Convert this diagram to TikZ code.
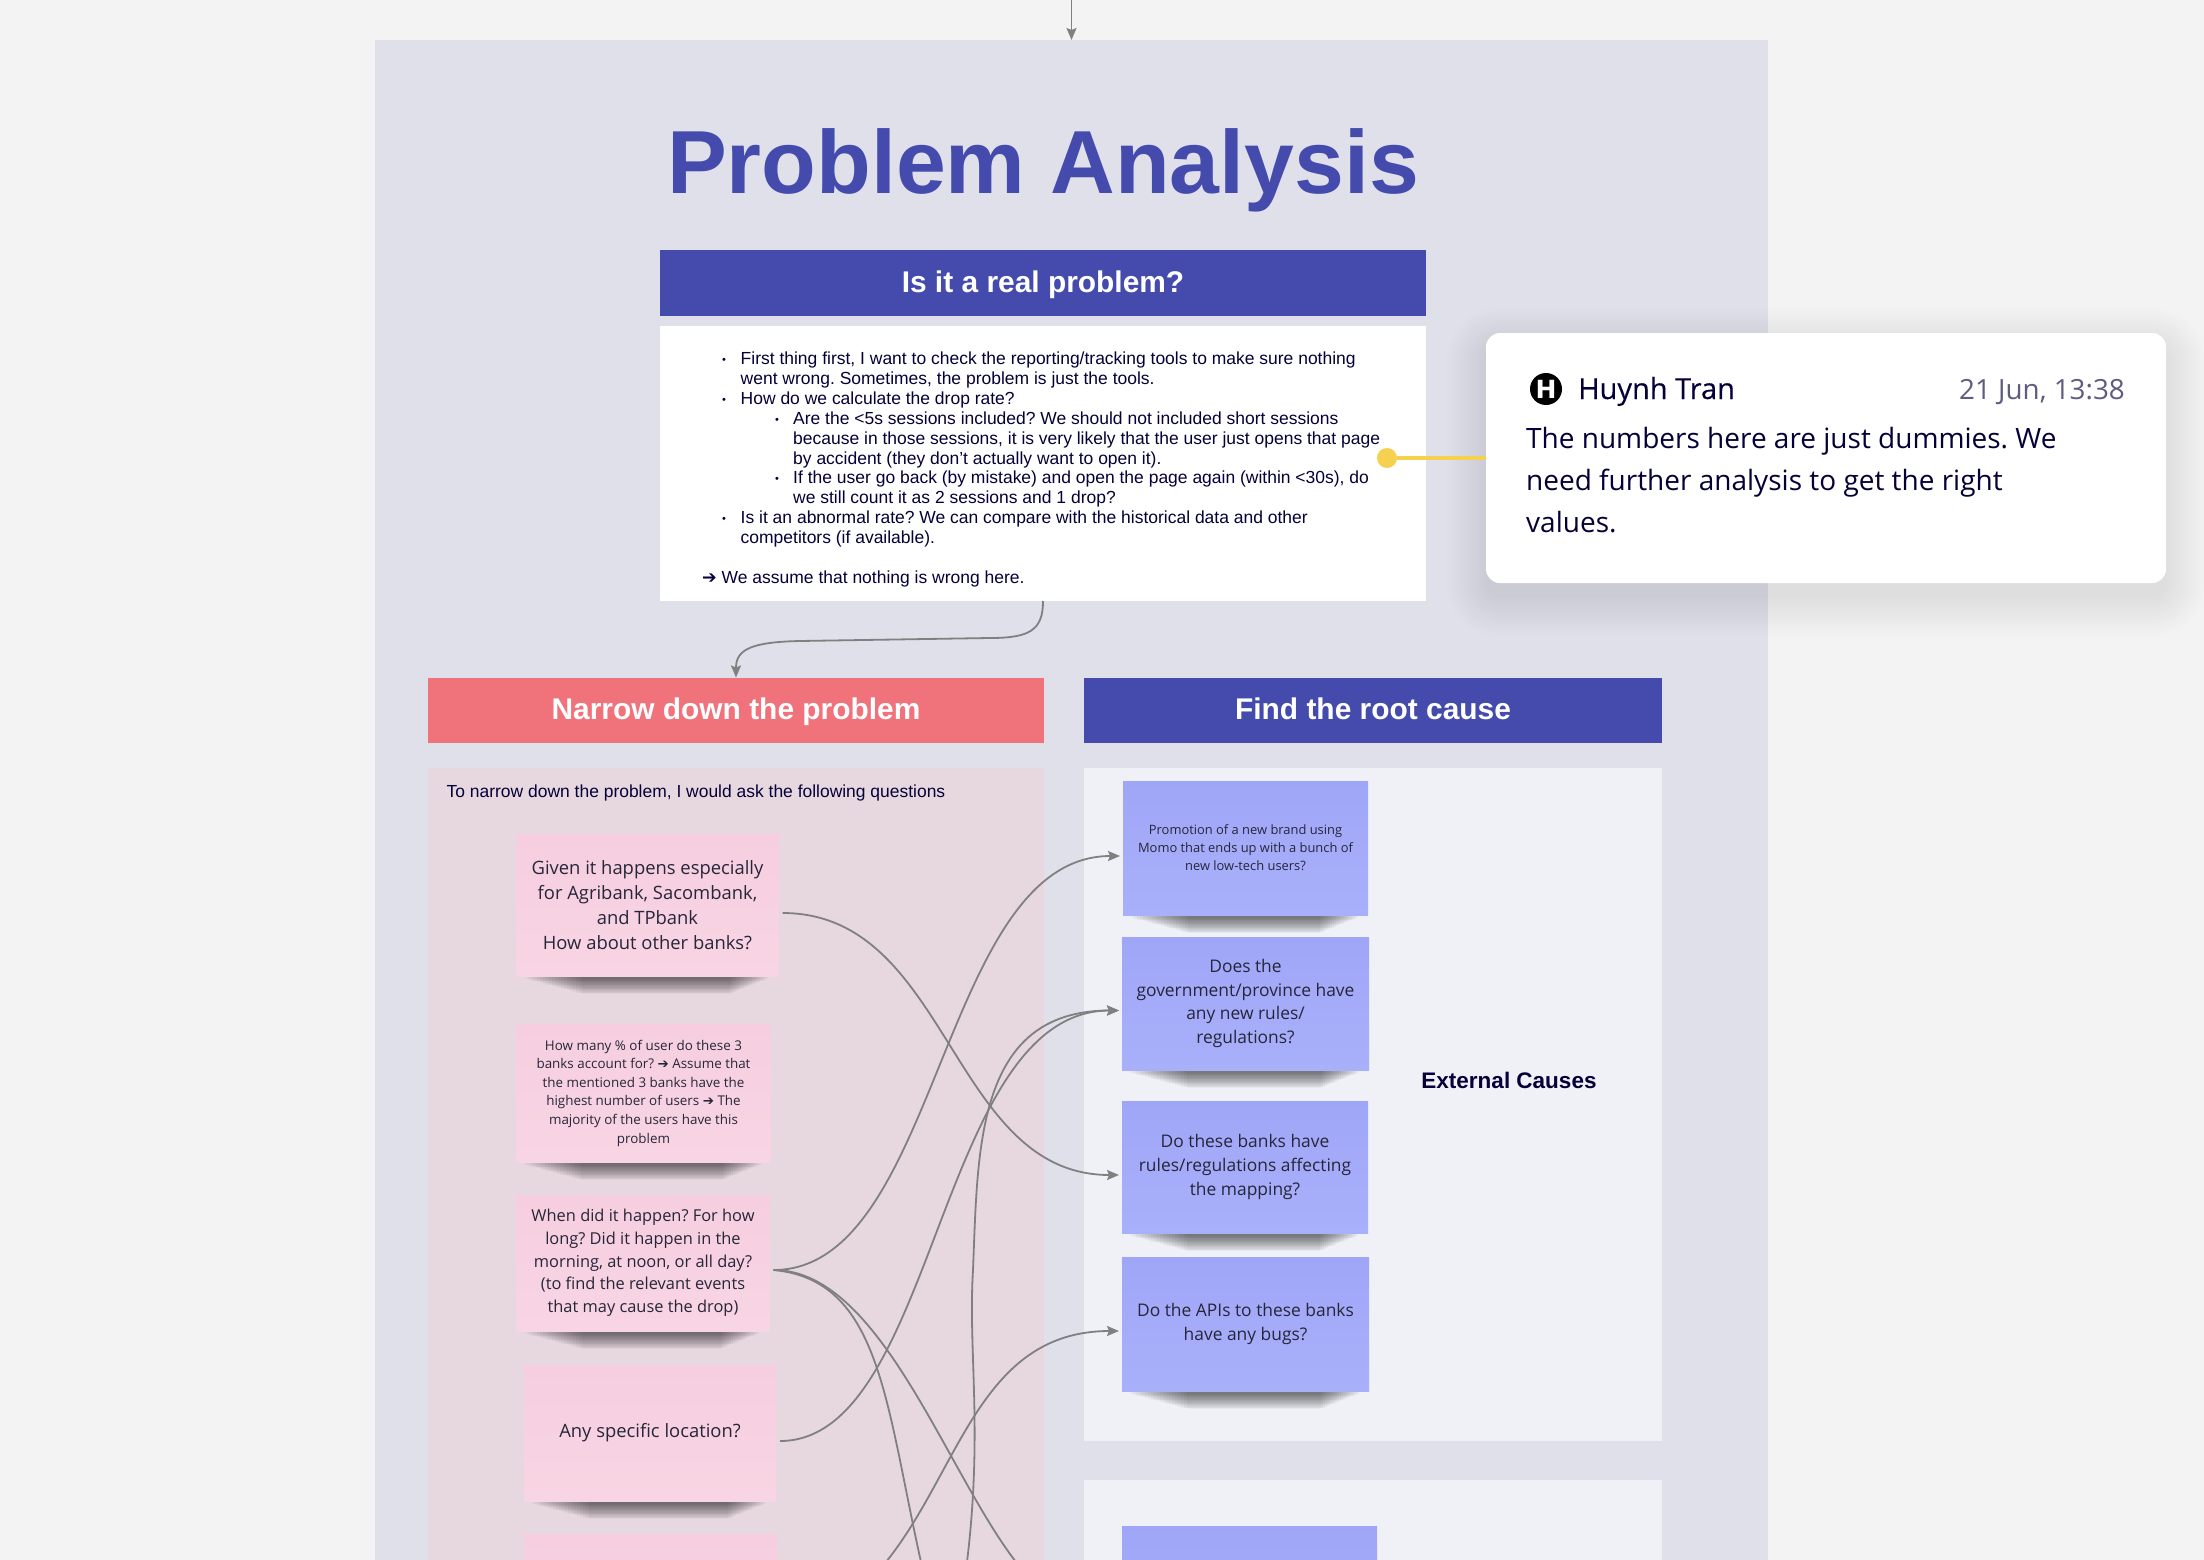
\documentclass[tikz,border=0pt]{standalone}
\usepackage{fontspec}
\setmainfont{Liberation Sans}
\newfontfamily\osans{Open Sans}
\newfontfamily\osmed[FakeBold=0.25]{Open Sans}
\newfontfamily\dejav{DejaVu Sans}
\usetikzlibrary{arrows.meta,calc}
\definecolor{pagebg}{HTML}{F3F3F3}
\definecolor{framebg}{HTML}{E0E0EB}
\definecolor{indigo}{HTML}{444BAC}
\definecolor{coral}{HTML}{F0727A}
\definecolor{pinkpanel}{HTML}{E7D8DF}
\definecolor{palepanel}{HTML}{F0F1F7}
\definecolor{pinkA}{HTML}{F6CEDF}
\definecolor{pinkB}{HTML}{F8D5E4}
\definecolor{blueA}{HTML}{A0A6F7}
\definecolor{blueB}{HTML}{A9B0FA}
\definecolor{ink}{HTML}{050038}
\definecolor{stickyink}{HTML}{26263A}
\definecolor{datecol}{HTML}{5F5C80}
\definecolor{linkgray}{HTML}{808080}
\definecolor{goldline}{HTML}{F6D04F}
\frenchspacing
\newcommand\fs[2]{\fontsize{#1}{#2}\selectfont}
\newcommand\rarr{{\dejav\char"2794}}
\newcommand\apos{{\char"27}}
\newcommand\stickshadow[3]{%
  \foreach \i in {0,1,...,19}{
    \fill[black,opacity=0.033]
      ({#1+8+\i*3},{#3-2}) rectangle ({#2-10-\i*2},{#3+3+\i*0.8});
  }
}
\tikzset{
  x=1pt,y=-1pt,
  plate/.style={inner sep=0pt,outer sep=0pt,draw=none},
  banner/.style={plate,text=white,font=\bfseries\fs{29.9}{34},text height=24pt,text depth=6pt},
  pinksticky/.style={plate,top color=pinkA,bottom color=pinkB,text=stickyink,align=center},
  bluesticky/.style={plate,top color=blueA,bottom color=blueB,text=stickyink,align=center},
  big/.style={font=\osans\fs{18.4}{25}},
  mid/.style={font=\osans\fs{16.4}{22.7}},
  small/.style={font=\osans\fs{13.4}{18.6}},
  bluebig/.style={font=\osans\fs{17.4}{23.6}},
  bluesmall/.style={font=\osans\fs{12.9}{18}},
  conn/.style={draw=linkgray,line width=1.8pt,-{Stealth[length=12pt,width=10pt,inset=2pt]}},
  plainconn/.style={draw=linkgray,line width=1.8pt},
  item/.style={inner sep=0pt,anchor=north west,align=left,text=ink,font=\fs{17.48}{19.8}},
  dotmark/.style={inner sep=0pt,text=ink,font=\fs{11}{12}},
  noteline/.style={inner sep=0pt,anchor=base west,text=ink,font=\osans\fs{28}{42}},
}
\begin{document}
\begin{tikzpicture}
\useasboundingbox (0,0) rectangle (2204,1560);
\clip (0,0) rectangle (2204,1560);
\fill[pagebg] (0,0) rectangle (2204,1560);

\node[plate,fill=framebg,minimum width=1393pt,minimum height=1520pt] (frame) at (1071.5,800) {};
\node[inner sep=0pt,text=indigo,font=\bfseries\fs{89.6}{100}] (title) at (1043,170) {Problem Analysis};
\node[banner,fill=indigo,minimum width=766pt,minimum height=66pt] (realhead) at (1043,283) {Is it a real problem?};
\node[plate,fill=white,minimum width=766pt,minimum height=275pt] (realbox) at (1043,463.5) {};

\node[dotmark] (b1) at (724,361) {•};
\node[item] (t1) at (740.5,352) {First thing first, I want to check the reporting/tracking tools to make sure nothing\\went wrong. Sometimes, the problem is just the tools.};
\node[dotmark] (b2) at (724,401) {•};
\node[item] (t2) at (740.5,392) {How do we calculate the drop rate?};
\node[dotmark] (b3) at (777,421) {•};
\node[item] (t3) at (793,412) {Are the <5s sessions included? We should not included short sessions\\because in those sessions, it is very likely that the user just opens that page\\by accident (they don\apos{}t actually want to open it).};
\node[dotmark] (b4) at (777,480) {•};
\node[item] (t4) at (793,471) {If the user go back (by mistake) and open the page again (within <30s), do\\we still count it as 2 sessions and 1 drop?};
\node[dotmark] (b5) at (724,520) {•};
\node[item] (t5) at (740.5,511) {Is it an abnormal rate? We can compare with the historical data and other\\competitors (if available).};
\node[item] (t6) at (702,571) {\rarr{} We assume that nothing is wrong here.};

\node[banner,fill=coral,minimum width=616pt,minimum height=65pt] (narrowhead) at (736,710) {Narrow down the problem};
\node[banner,fill=indigo,minimum width=578pt,minimum height=65pt] (rootHead) at (1373,710) {Find the root cause};

\node[plate,fill=pinkpanel,minimum width=616pt,minimum height=792pt] (pinkbg) at (736,1164) {};
\node[plate,fill=palepanel,minimum width=578pt,minimum height=673pt] (extbg) at (1373,1104.5) {};
\node[plate,fill=palepanel,minimum width=578pt,minimum height=120pt] (intbg) at (1373,1540) {};

\node[inner sep=0pt,anchor=west,text=ink,font=\fs{17.45}{20}] (intro) at (446.5,793) {To narrow down the problem, I would ask the following questions};

\stickshadow{517}{778}{976}
\stickshadow{516}{771}{1162}
\stickshadow{517}{769}{1331}
\stickshadow{524}{776}{1501}
\stickshadow{1123}{1368}{915}
\stickshadow{1122}{1369}{1070}
\stickshadow{1122}{1368}{1233}
\stickshadow{1122}{1369}{1391}

\node[pinksticky,big,minimum width=262pt,minimum height=142pt] (p1) at (647.5,905) {Given it happens especially\\for Agribank, Sacombank,\\and TPbank\\How about other banks?};
\node[pinksticky,small,minimum width=255pt,minimum height=138pt] (p2) at (643.5,1093) {How many \% of user do these 3\\banks account for? \rarr{} Assume that\\the mentioned 3 banks have the\\highest number of users \rarr{} The\\majority of the users have this\\problem};
\node[pinksticky,mid,minimum width=253pt,minimum height=136pt] (p3) at (643,1263) {When did it happen? For how\\long? Did it happen in the\\morning, at noon, or all day?\\(to find the relevant events\\that may cause the drop)};
\node[pinksticky,big,minimum width=252pt,minimum height=136pt] (p4) at (650,1433) {Any specific location?};
\node[pinksticky,minimum width=253pt,minimum height=136pt] (p5) at (650.5,1602) {};

\node[bluesticky,bluesmall,minimum width=245pt,minimum height=134pt] (s1) at (1245.5,848) {Promotion of a new brand using\\Momo that ends up with a bunch of\\new low-tech users?};
\node[bluesticky,bluebig,minimum width=247pt,minimum height=133pt] (s2) at (1245.5,1003.5) {Does the\\government/province have\\any new rules/\\regulations?};
\node[bluesticky,bluebig,minimum width=246pt,minimum height=132pt] (s3) at (1245,1167) {Do these banks have\\rules/regulations affecting\\the mapping?};
\node[bluesticky,bluebig,minimum width=247pt,minimum height=134pt] (s4) at (1245.5,1324) {Do the APIs to these banks\\have any bugs?};
\node[bluesticky,minimum width=255pt,minimum height=134pt] (s5) at (1249.5,1593) {};
\node[inner sep=0pt,text=ink,font=\bfseries\fs{22.5}{26}] (extlabel) at (1509,1080) {External Causes};

% comment card
\foreach \i in {0,2,...,40}{
  \fill[black,opacity=0.0035,rounded corners={14+\i}]
    ({1486-\i},{333+14-\i}) rectangle ({2166+\i},{583+14+\i});
}
\node[plate,circle,fill=goldline,minimum size=20pt] (pin) at (1387,458) {};
\node[plate,fill=white,rounded corners=14pt,minimum width=680pt,minimum height=250pt] (card) at (1826,458) {};
\draw[goldline,line width=3.5pt] (pin) -- (card.west);
\node[plate,circle,fill=black,minimum size=32pt,text=white,font=\dejav\bfseries\fs{25}{25}] (avatar) at (1546,389) {H};
\node[inner sep=0pt,anchor=base west,text=ink,font=\osmed\fs{29}{34}] (author) at (1578,399) {Huynh Tran};
\node[inner sep=0pt,anchor=base east,text=datecol,font=\osans\fs{27.8}{34}] (stamp) at (2125,399) {21 Jun, 13:38};
\node[noteline] (note1) at (1526,448) {The numbers here are just dummies. We};
\node[noteline] (note2) at (1526,490) {need further analysis to get the right};
\node[noteline] (note3) at (1526,532) {values.};

% connectors
\coordinate (topin) at (1071.5,-5);
\coordinate (fromA) at (967,1562);
\coordinate (fromB) at (886,1562);
\coordinate (toC) at (921,1562);
\coordinate (toD) at (1016,1562);
\draw[conn] (topin) -- (frame.north);
\draw[conn] (realbox.south) .. controls (1043,630) and (1030,638) .. (990,638) -- (800,641) .. controls (750,642) and (736,650) .. (narrowhead.north);
\draw[conn] ([xshift=4pt,yshift=-8pt]p1.east) .. controls (950,913) and (950,1175) .. ([xshift=-3pt,yshift=-8pt]s3.west);
\draw[conn] ([xshift=4pt,yshift=-7pt]p3.east) .. controls (940,1270) and (940,856) .. ([xshift=-3pt,yshift=-8pt]s1.west);
\draw[conn] ([xshift=4pt,yshift=-8pt]p4.east) .. controls (937,1441) and (937,1010.5) .. ([xshift=-3pt,yshift=-7pt]s2.west);
\draw[conn] (fromA) .. controls (983,1430) and (968,1350) .. (973,1270) .. controls (978,1150) and (975,1010.5) .. ([xshift=-3pt,yshift=-7pt]s2.west);
\draw[conn] (fromB) .. controls (960,1470) and (980,1331) .. ([xshift=-3pt,yshift=-7pt]s4.west);
\draw[plainconn] ([xshift=4pt,yshift=-7pt]p3.east) .. controls (880,1280) and (885,1400) .. (toC);
\draw[plainconn] ([xshift=4pt,yshift=-7pt]p3.east) .. controls (880,1270) and (945,1470) .. (toD);
\end{tikzpicture}
\end{document}
